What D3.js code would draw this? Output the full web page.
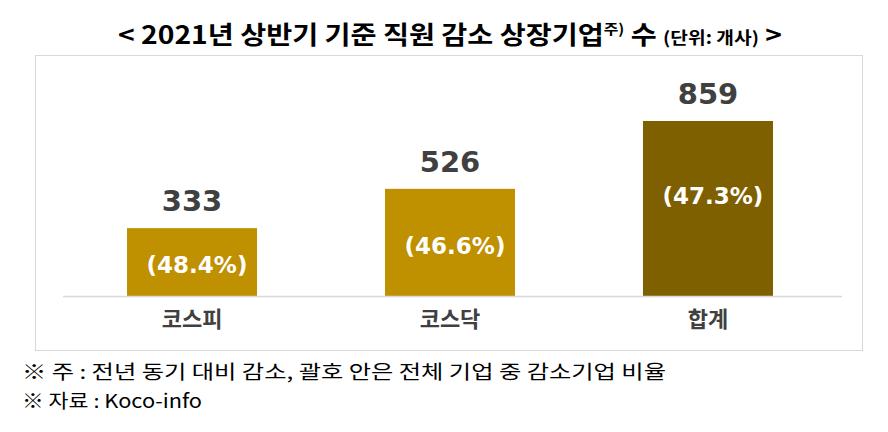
<!DOCTYPE html>
<html><head><meta charset="utf-8">
<script src="https://cdn.jsdelivr.net/npm/d3@7"></script>
<style>body{margin:0;background:#fff}svg{display:block}</style>
</head><body>
<script>
const categories = ["코스피", "코스닥", "합계"];
const values = [333, 526, 859];
const pctLabels = ["(48.4%)", "(46.6%)", "(47.3%)"];
const barColors = ["#BF9000", "#BF9000", "#7F6000"];
const titleMain = "< 2021년 상반기 기준 직원 감소 상장기업";
const titleSup = "주)";
const titleRest = " 수 ";
const titleUnit = "(단위: 개사)";
const titleEnd = " >";
const notes = ["※ 주 : 전년 동기 대비 감소, 괄호 안은 전체 기업 중 감소기업 비율", "※ 자료 : Koco-info"];

const W = 888, H = 432;
const svg = d3.select("body").append("svg").attr("width", W).attr("height", H);
const font = "'Noto Sans CJK KR', 'Noto Sans', sans-serif";
const numFont = "'DejaVu Sans', 'Noto Sans', sans-serif";

// frame
svg.append("rect").attr("x", 35.5).attr("y", 55.5).attr("width", 827).attr("height", 295)
  .attr("fill", "#fff").attr("stroke", "#d9d9d9").attr("stroke-width", 1);

const x = d3.scaleBand().domain(categories).range([62, 838]).paddingInner(0.496).paddingOuter(0.252);
const y = d3.scaleLinear().domain([0, 859]).range([296, 121]);

// bars
svg.selectAll("rect.bar").data(values).join("rect").attr("class", "bar")
  .attr("x", (d, i) => x(categories[i]))
  .attr("y", d => y(d))
  .attr("width", x.bandwidth())
  .attr("height", d => y(0) - y(d))
  .attr("fill", (d, i) => barColors[i]);

// baseline axis
const axis = svg.append("g").attr("transform", `translate(0,${y(0)})`)
  .call(d3.axisBottom(x).tickSize(0).tickPadding(18));
axis.select(".domain").remove();
axis.append("line").attr("x1", 63).attr("x2", 842).attr("y1", 0.5).attr("y2", 0.5)
  .attr("stroke", "#d9d9d9").attr("stroke-width", 1.5);
axis.selectAll(".tick text").attr("font-family", font).attr("font-size", 22)
  .attr("font-weight", "bold").attr("fill", "#404040").attr("dy", "0.6em");

// value labels
svg.selectAll("text.val").data(values).join("text").attr("class", "val")
  .attr("x", (d, i) => x(categories[i]) + x.bandwidth() / 2)
  .attr("y", d => y(d) - 17)
  .attr("text-anchor", "middle")
  .attr("font-family", numFont).attr("font-size", 29).attr("font-weight", "bold")
  .attr("fill", "#404040").text(d => d);

// pct labels
svg.selectAll("text.pct").data(values).join("text").attr("class", "pct")
  .attr("x", (d, i) => x(categories[i]) + x.bandwidth() / 2 + 5)
  .attr("y", d => Math.min(y(d) + 75, (y(d) + y(0)) / 2 + 3))
  .attr("dy", "0.36em")
  .attr("text-anchor", "middle")
  .attr("font-family", numFont).attr("font-size", 23).attr("font-weight", "bold")
  .attr("fill", "#ffffff").text((d, i) => pctLabels[i]);

// title
const t = svg.append("text").attr("x", 118).attr("y", 44)
  .attr("font-family", font).attr("font-weight", "bold").attr("fill", "#000")
  .attr("textLength", 664).attr("lengthAdjust", "spacingAndGlyphs");
t.append("tspan").attr("font-size", 25).text(titleMain);
t.append("tspan").attr("font-size", 14).attr("dy", -10).text(titleSup);
t.append("tspan").attr("font-size", 25).attr("dy", 10).text(titleRest);
t.append("tspan").attr("font-size", 17).text(titleUnit);
t.append("tspan").attr("font-size", 25).text(titleEnd);

// notes
svg.selectAll("text.note").data(notes).join("text").attr("class", "note")
  .attr("x", 22).attr("y", (d, i) => 379 + i * 29)
  .attr("font-family", font).attr("font-size", 19).attr("fill", "#000")
  .attr("textLength", (d, i) => i === 0 ? 644 : 180)
  .attr("lengthAdjust", "spacingAndGlyphs")
  .text(d => d);
</script>
</body></html>
